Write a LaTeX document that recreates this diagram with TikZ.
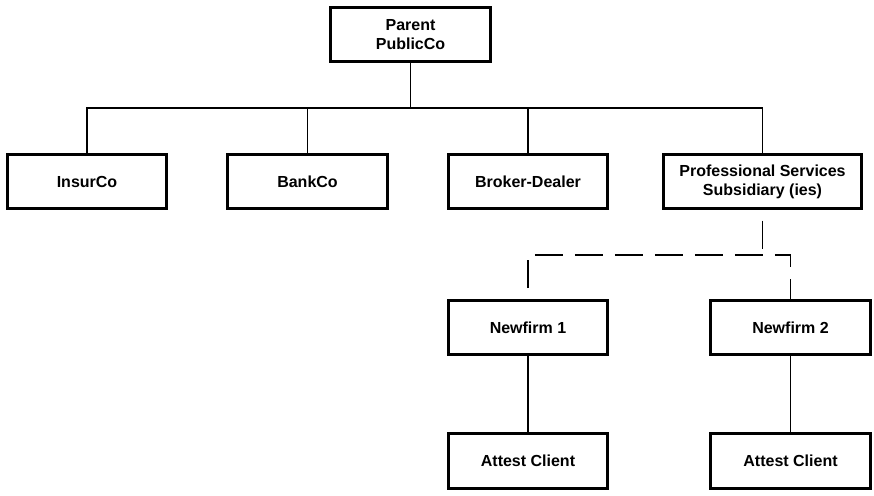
\documentclass[tikz,border=0pt]{standalone}
\usepackage{fontspec}
\setmainfont{Liberation Sans}
\usepackage{tikz}
\usetikzlibrary{positioning,calc}

\begin{document}
\begin{tikzpicture}[x=1pt,y=1pt,every node/.style={outer sep=0pt},
        firm/.style={draw,line width=2.6pt,minimum width=159.5pt,minimum
        height=54.5pt,align=center,font=\bfseries\fontsize{16}{19}\selectfont},
        link/.style={line width=1.1pt},
        dashlink/.style={line width=1.1pt,dash pattern=on 28pt off 12pt,dash phase=28pt}]
        \useasboundingbox (0,0) rectangle (874,495);

        % Parent
        \node[firm] (parent) at (410.5,460.5) {Parent\\PublicCo};
        % Subsidiaries
        \node[firm] (insur) at (87,313.5) {InsurCo};
        \node[firm,right=61pt of insur] (bank) {BankCo};
        \node[firm,right=61pt of bank] (broker) {Broker-Dealer};
        \node[firm,right=56pt of broker,minimum width=197.5pt] (prof) {Professional Services\\Subsidiary (ies)};
        % Newfirms
        \node[firm,below=91.5pt of broker] (new1) {Newfirm 1};
        \node[firm,right=103pt of new1] (new2) {Newfirm 2};
        % Attest clients
        \node[firm,below=79pt of new1] (att1) {Attest Client};
        \node[firm,below=79pt of new2] (att2) {Attest Client};

        \coordinate (bus) at (0,387);
        \coordinate (split) at (0,240);
        % Parent to subsidiaries
        \draw[link] (parent.south) -- (parent.south|-bus);
        \draw[link] (insur.north) -- (insur.north|-bus) -- (prof.north|-bus) -- (prof.north);
        \foreach \n in {bank,broker} \draw[link] (\n.north) -- (\n.north|-bus);
        % Dashed split
        \draw[dashlink] (prof.south) -- (prof.south|-split);
        \draw[dashlink] (new1.north) -- (new1.north|-split) -- (new2.north|-split) -- (new2.north);
        % Clients
        \draw[link] (new1.south) -- (att1.north);
        \draw[link] (new2.south) -- (att2.north);

    \end{tikzpicture}
\end{document}
